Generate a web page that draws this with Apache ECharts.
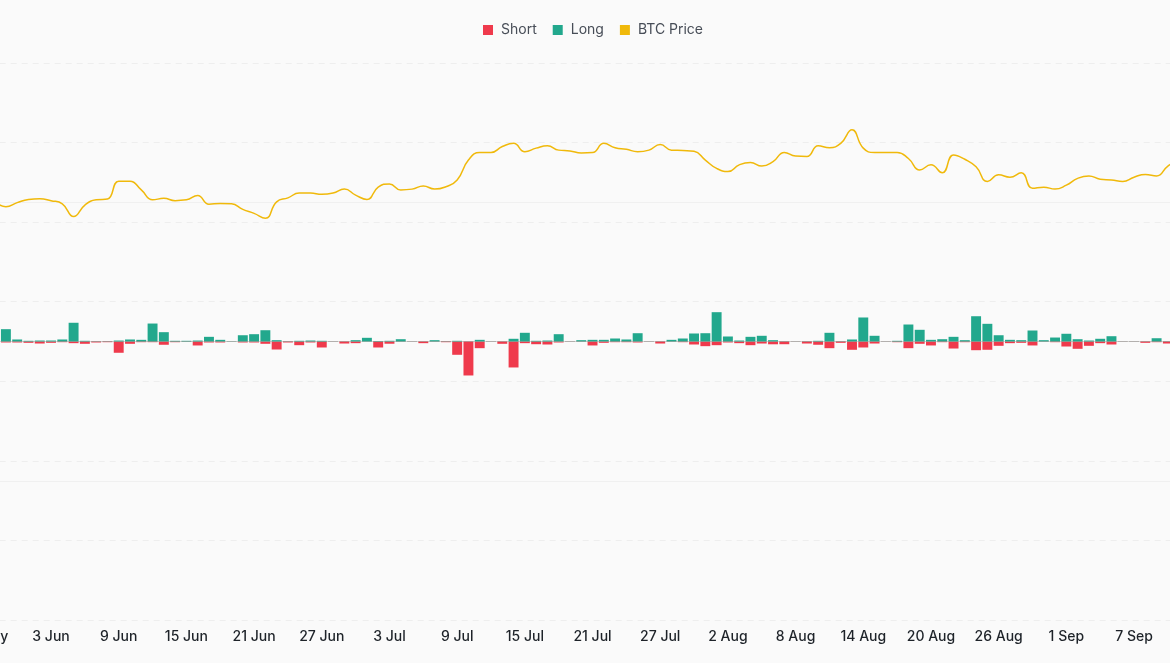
<!DOCTYPE html>
<html>
<head>
<meta charset="utf-8">
<script src="https://cdn.jsdelivr.net/npm/echarts@6/dist/echarts.min.js"></script>
<style>
  html, body { margin: 0; padding: 0; background: #fafafa; }
  #chart { width: 1170px; height: 663px; }
</style>
</head>
<body>
<div id="chart"></div>
<script>
// day labels, 28 May -> 11 Sep
var monthSpans = [['May', 28, 31], ['Jun', 1, 30], ['Jul', 1, 31], ['Aug', 1, 31], ['Sep', 1, 11]];
var dates = [];
for (var m = 0; m < monthSpans.length; m++) {
    for (var d = monthSpans[m][1]; d <= monthSpans[m][2]; d++) {
        dates.push(d + ' ' + monthSpans[m][0]);
    }
}

// BTC close, thousands of USD
var btcPriceK = [
    106.0, 105.0, 103.9, 104.9, 105.7, 105.9, 105.4, 104.6, 101.4, 104.3,
    105.6, 105.8, 110.3, 110.3, 108.1, 105.6, 106.0, 105.4, 105.6, 106.7,
    104.5, 104.7, 104.6, 103.2, 102.2, 101.0, 105.1, 106.1, 107.3, 107.3,
    107.0, 107.3, 108.3, 106.8, 105.7, 108.8, 109.6, 108.1, 108.3, 109.1,
    108.3, 108.9, 110.6, 115.6, 117.5, 117.5, 119.0, 119.8, 117.7, 118.6,
    119.2, 118.1, 117.9, 117.4, 117.5, 119.8, 118.7, 118.3, 117.7, 118.1,
    119.5, 118.1, 118.0, 117.8, 115.6, 113.5, 112.7, 114.4, 115.0, 114.1,
    115.2, 117.5, 116.6, 116.5, 119.2, 118.7, 119.8, 123.2, 118.6, 117.5,
    117.5, 117.5, 116.0, 113.1, 114.4, 112.4, 116.9, 115.8, 113.9, 110.2,
    111.9, 111.3, 112.4, 108.5, 108.8, 108.3, 109.3, 111.0, 111.6, 110.8,
    110.6, 110.2, 111.3, 112.0, 111.6, 114.1, 115.6
];

// long liquidations, millions USD
var longLiq = [
    43, 29, 177, 29, 10, 14, 14, 29, 269, 10,
    4, 4, 14, 29, 24, 258, 134, 10, 10, 14,
    67, 24, 4, 90, 105, 162, 19, 4, 10, 14,
    10, 3, 3, 19, 53, 7, 10, 33, 3, 3,
    19, 4, 10, 3, 24, 3, 3, 39, 125, 10,
    14, 105, 3, 19, 24, 24, 43, 29, 119, 3,
    3, 24, 43, 115, 119, 421, 72, 14, 67, 82,
    19, 4, 3, 4, 10, 125, 4, 29, 345, 82,
    3, 10, 244, 168, 24, 33, 67, 19, 363, 254,
    90, 24, 19, 158, 19, 57, 111, 33, 14, 39,
    76, 3, 3, 3, 47, 4, 14
];

// short liquidations, millions USD (drawn below zero)
var shortLiq = [
    14, 14, 14, 14, 19, 29, 19, 10, 24, 33,
    14, 10, 162, 33, 10, 10, 47, 10, 4, 57,
    14, 14, 3, 14, 14, 33, 115, 14, 53, 14,
    86, 3, 29, 24, 3, 86, 32, 4, 3, 24,
    4, 10, 191, 488, 96, 3, 33, 373, 24, 39,
    43, 14, 3, 4, 57, 19, 10, 10, 14, 3,
    29, 4, 10, 43, 67, 53, 14, 24, 53, 29,
    40, 39, 3, 29, 47, 96, 19, 119, 86, 29,
    3, 10, 96, 33, 57, 10, 101, 10, 125, 119,
    62, 24, 19, 57, 4, 10, 72, 105, 62, 24,
    43, 3, 3, 19, 10, 29, 14
];

var chart = echarts.init(document.getElementById('chart'));

var option = {
    backgroundColor: '#fafafa',
    animation: false,
    textStyle: { fontFamily: 'Inter, "Noto Sans", sans-serif' },
    legend: {
        top: 18,
        left: 478,
        itemWidth: 10,
        itemHeight: 10,
        itemGap: 16,
        data: [
            { name: 'Short', icon: 'rect' },
            { name: 'Long', icon: 'rect' },
            { name: 'BTC Price', icon: 'rect' }
        ],
        textStyle: { color: '#474d57', fontSize: 14, padding: [0, 0, 0, 3] }
    },
    // chart is cropped on both sides, so the grid runs past the canvas
    grid: {
        left: -22.3,
        right: -14.8,
        top: 63,
        bottom: 43,
        containLabel: false,
        outerBoundsMode: 'none'
    },
    xAxis: {
        type: 'category',
        data: dates,
        boundaryGap: true,
        axisLine: { show: false },
        axisTick: { show: false },
        axisLabel: {
            interval: 5,
            margin: 10,
            color: '#1e2329',
            fontSize: 14,
            fontWeight: 500
        },
        splitLine: { show: false }
    },
    yAxis: [
        {
            type: 'value',
            min: -4000,
            max: 4000,
            interval: 2000,
            axisLabel: { show: false },
            axisLine: { show: false },
            axisTick: { show: false },
            splitLine: {
                lineStyle: {
                    color: ['rgba(0,0,0,0)', '#f0f0f0', '#d3d3d3', '#f0f0f0', 'rgba(0,0,0,0)'],
                    width: 1
                }
            }
        },
        {
            type: 'value',
            min: 0,
            max: 140,
            interval: 20,
            position: 'right',
            axisLabel: { show: false },
            axisLine: { show: false },
            axisTick: { show: false },
            splitLine: {
                lineStyle: { color: '#eeeeee', type: [6, 5], width: 1 }
            }
        }
    ],
    series: [
        {
            name: 'Short',
            type: 'bar',
            stack: 'liq',
            yAxisIndex: 0,
            barCategoryGap: '12%',
            itemStyle: { color: '#ef3a4c' },
            data: shortLiq.map(function (v) { return -v; })
        },
        {
            name: 'Long',
            type: 'bar',
            stack: 'liq',
            yAxisIndex: 0,
            barCategoryGap: '12%',
            itemStyle: { color: '#22a88d' },
            data: longLiq
        },
        {
            name: 'BTC Price',
            type: 'line',
            yAxisIndex: 1,
            smooth: true,
            showSymbol: false,
            itemStyle: { color: '#f0b90b' },
            lineStyle: { color: '#f0b90b', width: 1.5 },
            data: btcPriceK
        }
    ]
};

chart.setOption(option);
</script>
</body>
</html>
